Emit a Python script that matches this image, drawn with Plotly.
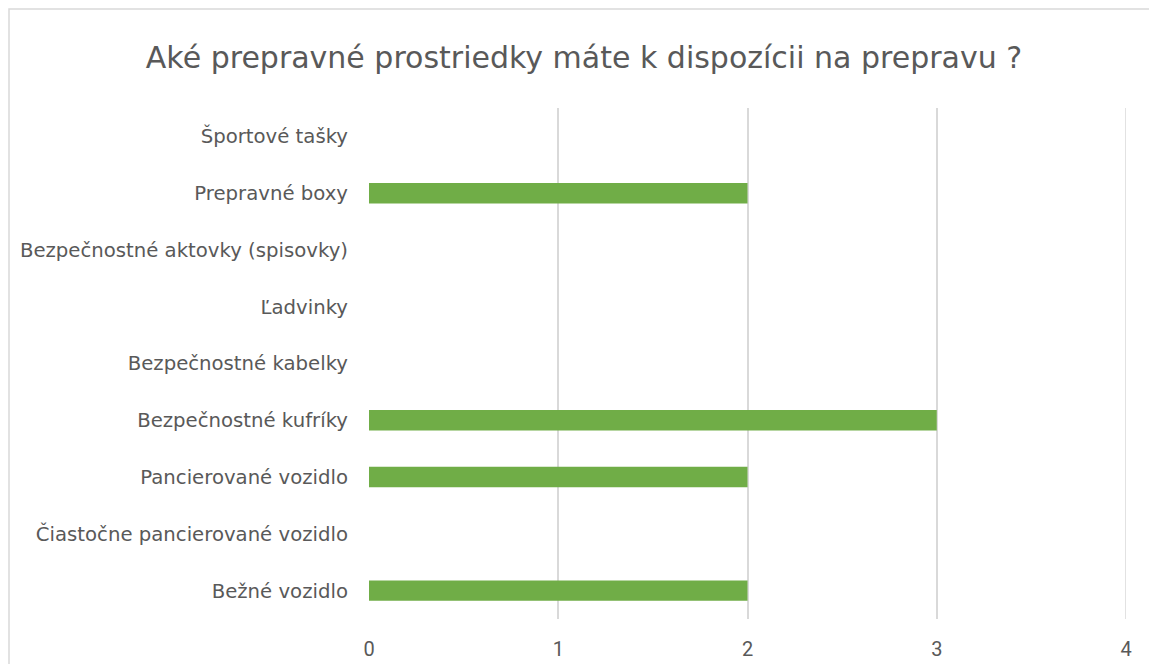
import plotly.graph_objects as go

categories = [
    "Bežné vozidlo",
    "Čiastočne pancierované vozidlo",
    "Pancierované vozidlo",
    "Bezpečnostné kufríky",
    "Bezpečnostné kabelky",
    "Ľadvinky",
    "Bezpečnostné aktovky (spisovky)",
    "Prepravné boxy",
    "Športové tašky",
]
counts = [2, 0, 2, 3, 0, 0, 0, 2, 0]
x_ticks = [0, 1, 2, 3, 4]

# page has an 8px body margin, so the figure is laid out 8px in from the window
W, H = 1149, 656
L, R, T, B = 361, 31, 100, 45
pw, ph = W - L - R, H - T - B

fig = go.Figure()
fig.add_trace(go.Bar(
    x=counts, y=categories, orientation="h", width=0.36,
    marker=dict(color="#70ad47", line=dict(width=0)),
))

fig.update_layout(
    width=W, height=H,
    margin=dict(l=L, r=R, t=T, b=B),
    paper_bgcolor="white", plot_bgcolor="white",
    font=dict(family="DejaVu Sans", color="#595959"),
    title=dict(text="Aké prepravné prostriedky máte k dispozícii na prepravu ?",
               x=(584 - 8) / W, xanchor="center",
               y=1 - 49 / H, yanchor="middle",
               font=dict(size=30, color="#595959")),
    showlegend=False,
    shapes=[
        dict(type="rect", xref="paper", yref="paper",
             x0=(1 - L) / pw, x1=1.2, y0=-0.3, y1=1 + (T - 1) / ph,
             line=dict(color="#d9d9d9", width=1.5), layer="below"),
        # last gridline sits on the plot edge, plotly drops it
        dict(type="line", xref="x", yref="paper", x0=x_ticks[-1], x1=x_ticks[-1],
             y0=0, y1=1, line=dict(color="#d9d9d9", width=1.5), layer="below"),
    ],
)
fig.update_xaxes(range=[0, 4], tickvals=x_ticks, showgrid=True, gridcolor="#d9d9d9",
                 gridwidth=1.5, zeroline=False, showline=False, automargin=False,
                 tickfont=dict(size=20, color="#595959", family="Roboto"),
                 ticklabelstandoff=16)
fig.update_yaxes(showgrid=False, zeroline=False, showline=False, automargin=False,
                 tickfont=dict(size=19.7, color="#595959"),
                 ticklabelstandoff=20)

fig.write_html("out.html")
